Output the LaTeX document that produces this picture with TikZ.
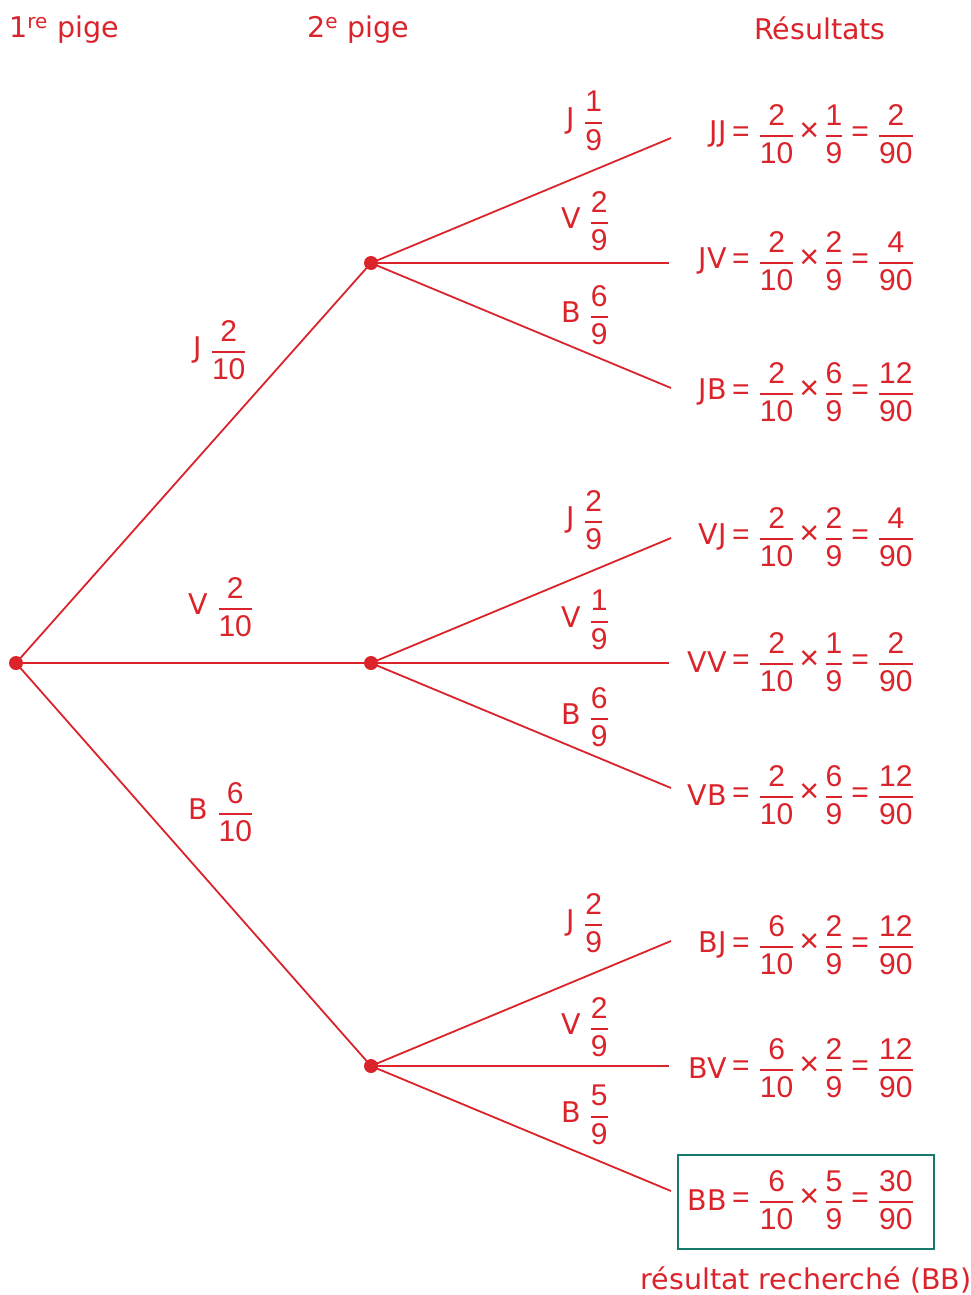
\documentclass[tikz,border=0pt]{standalone}
\usepackage{amsmath}
\usepackage{fontspec}
\setmainfont{DejaVu Sans}
\newfontfamily\symf{Liberation Sans}
\definecolor{rd}{RGB}{218,35,42}
\definecolor{tl}{RGB}{22,122,108}
\newcommand\fr[2]{$\genfrac{}{}{2pt}{0}{\text{\symf\fontsize{30}{32}\selectfont #1}}{\text{\symf\fontsize{30}{32}\selectfont #2}}$}
\newcommand\eqs{{\symf\fontsize{30}{32}\selectfont =}}
\newcommand\tms{{\symf\fontsize{34}{32}\selectfont ×}}
\begin{document}
\begin{tikzpicture}[x=1pt,y=-1pt,
  every node/.style={text=rd,font=\fontsize{28.5}{32}\selectfont,inner sep=0pt},
  br/.style={draw=rd,line width=1.8pt},
  dotn/.style={circle,fill=rd,minimum size=14pt,inner sep=0pt},
  lbl/.style={anchor=center},
  nm/.style={anchor=east},
  ex/.style={anchor=west}]
\useasboundingbox (0,0) rectangle (971,1295);
% headers
\node (h1) at (64,30) {1\textsuperscript{re} pige};
\node (h2) at (358,30) {2\textsuperscript{e} pige};
\node (h3) at (820,28) {Résultats};
% dots
\node[dotn] (r) at (16,663) {};
\node[dotn] (a) at (371,263) {};
\node[dotn] (b) at (371,663) {};
\node[dotn] (c) at (371,1066) {};
% leaf ends
\coordinate (l1) at (671,138);
\coordinate (l2) at (669,263);
\coordinate (l3) at (671,388);
\coordinate (l4) at (671,538);
\coordinate (l5) at (669,663);
\coordinate (l6) at (671,788);
\coordinate (l7) at (671,941);
\coordinate (l8) at (669,1066);
\coordinate (l9) at (671,1191);
% branches
\draw[br] (r.center) -- (a.center);
\draw[br] (r.center) -- (b.center);
\draw[br] (r.center) -- (c.center);
\foreach \p/\q in {a/l1,a/l2,a/l3,b/l4,b/l5,b/l6,c/l7,c/l8,c/l9}
  \draw[br] (\p.center) -- (\q);
% first-level labels
\node[lbl] (t1) at (220,350) {J\hspace{9pt}\fr{2}{10}};
\node[lbl] (t2) at (221,607) {V\hspace{9pt}\fr{2}{10}};
\node[lbl] (t3) at (221,812) {B\hspace{9pt}\fr{6}{10}};
% second-level labels
\node[lbl] (s1) at (585,121) {J\hspace{9pt}\fr{1}{9}};
\node[lbl] (s2) at (585,221) {V\hspace{9pt}\fr{2}{9}};
\node[lbl] (s3) at (585,315) {B\hspace{9pt}\fr{6}{9}};
\node[lbl] (s4) at (585,520) {J\hspace{9pt}\fr{2}{9}};
\node[lbl] (s5) at (585,620) {V\hspace{9pt}\fr{1}{9}};
\node[lbl] (s6) at (585,717) {B\hspace{9pt}\fr{6}{9}};
\node[lbl] (s7) at (585,923) {J\hspace{9pt}\fr{2}{9}};
\node[lbl] (s8) at (585,1027) {V\hspace{9pt}\fr{2}{9}};
\node[lbl] (s9) at (585,1115) {B\hspace{9pt}\fr{5}{9}};
% results
\foreach \n/\y/\a/\b/\c/\d/\e/\f in {JJ/134/2/10/1/9/2/90, JV/261/2/10/2/9/4/90, JB/392/2/10/6/9/12/90, VJ/537/2/10/2/9/4/90, VV/662/2/10/1/9/2/90, VB/795/2/10/6/9/12/90, BJ/945/6/10/2/9/12/90, BV/1068/6/10/2/9/12/90, BB/1200/6/10/5/9/30/90}{
  \node[nm] (n\n) at (727,\y) {\n};
  \node[ex] (e\n) at (732,\y) {\eqs\hspace{9pt}\fr{\a}{\b}\hspace{5pt}\tms\hspace{5pt}\fr{\c}{\d}\hspace{8pt}\eqs\hspace{9pt}\fr{\e}{\f}};
}
\node[draw=tl,line width=1.8pt,minimum width=256pt,minimum height=94pt] (box) at (806,1202) {};
\node (cap) at (806,1280) {résultat recherché (BB)};
\end{tikzpicture}
\end{document}
